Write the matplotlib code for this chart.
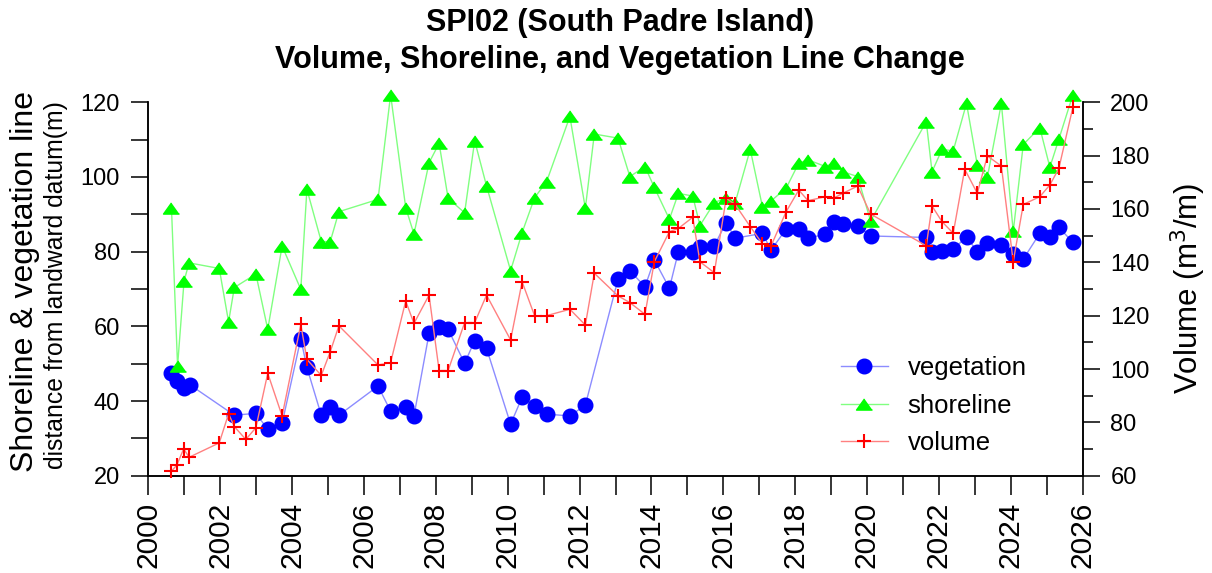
import matplotlib
matplotlib.use("Agg")
import matplotlib.pyplot as plt
from matplotlib.ticker import MultipleLocator
from matplotlib.lines import Line2D

plt.rcParams.update({
    "font.family": ["Liberation Sans", "DejaVu Sans"],
    "axes.linewidth": 1.1,
    "xtick.major.width": 1.1,
    "xtick.minor.width": 1.1,
    "ytick.major.width": 1.1,
    "ytick.minor.width": 1.1,
})

# survey dates (decimal years) and values
veg_year = [2000.64, 2000.79, 2000.99, 2001.16, 2002.39, 2002.99, 2003.32, 2003.72, 2004.24, 2004.41,
            2004.81, 2005.06, 2005.30, 2006.39, 2006.74, 2007.16, 2007.39, 2007.81, 2008.09, 2008.34,
            2008.80, 2009.08, 2009.41, 2010.08, 2010.40, 2010.75, 2011.08, 2011.73, 2012.16, 2013.07,
            2013.40, 2013.82, 2014.08, 2014.50, 2014.75, 2015.15, 2015.35, 2015.75, 2016.08, 2016.33,
            2017.09, 2017.33, 2017.75, 2018.10, 2018.36, 2018.84, 2019.09, 2019.33, 2019.74, 2020.10,
            2021.65, 2021.81, 2022.09, 2022.40, 2022.77, 2023.07, 2023.35, 2023.74, 2024.07, 2024.35,
            2024.81, 2025.09, 2025.34, 2025.73]
veg_dist = [47.6, 45.4, 43.4, 44.3, 36.2, 36.7, 32.4, 34.0, 56.7, 49.0,
            36.2, 38.5, 36.2, 44.0, 37.3, 38.3, 36.0, 58.1, 59.9, 59.2,
            50.1, 56.2, 54.1, 33.8, 41.0, 38.7, 36.5, 36.0, 38.9, 72.6,
            74.9, 70.6, 77.8, 70.2, 80.0, 80.0, 81.3, 81.6, 87.8, 83.6,
            84.9, 80.4, 86.1, 86.1, 83.6, 84.7, 88.0, 87.3, 87.0, 84.2,
            83.8, 80.0, 80.3, 80.6, 84.0, 80.0, 82.2, 81.8, 79.4, 78.0,
            84.9, 84.0, 86.5, 82.5]

shore_year = [2000.64, 2000.81, 2000.99, 2001.13, 2001.97, 2002.23, 2002.39, 2002.99, 2003.32, 2003.72,
              2004.24, 2004.41, 2004.81, 2005.06, 2005.30, 2006.39, 2006.74, 2007.16, 2007.39, 2007.81,
              2008.09, 2008.34, 2008.80, 2009.08, 2009.41, 2010.08, 2010.40, 2010.75, 2011.08, 2011.73,
              2012.16, 2012.41, 2013.07, 2013.40, 2013.82, 2014.08, 2014.50, 2014.75, 2015.15, 2015.35,
              2015.75, 2016.08, 2016.33, 2016.75, 2017.09, 2017.33, 2017.75, 2018.10, 2018.36, 2018.84,
              2019.09, 2019.33, 2019.74, 2020.10, 2021.65, 2021.81, 2022.09, 2022.40, 2022.77, 2023.07,
              2023.35, 2023.74, 2024.07, 2024.35, 2024.81, 2025.09, 2025.34, 2025.73]
shore_dist = [91.8, 49.4, 72.1, 77.0, 75.5, 61.2, 70.4, 74.0, 59.2, 81.5,
              69.9, 96.7, 82.7, 82.7, 90.7, 94.0, 122.0, 91.8, 84.7, 103.8,
              109.0, 94.3, 90.4, 109.7, 97.6, 74.9, 85.1, 94.5, 98.7, 116.2,
              91.6, 111.5, 110.4, 100.1, 102.8, 97.2, 88.7, 95.6, 94.9, 87.0,
              93.1, 94.5, 93.1, 107.4, 92.0, 93.6, 97.0, 103.7, 104.6, 102.8,
              103.8, 101.4, 100.1, 88.2, 114.8, 101.4, 107.4, 107.0, 119.7, 103.2,
              99.9, 119.7, 85.4, 108.7, 113.2, 102.6, 110.1, 122.0]

vol_year = [2000.64, 2000.79, 2000.98, 2001.13, 2001.97, 2002.23, 2002.39, 2002.71, 2002.99, 2003.32,
            2003.72, 2004.24, 2004.41, 2004.81, 2005.06, 2005.30, 2006.39, 2006.74, 2007.16, 2007.39,
            2007.81, 2008.09, 2008.34, 2008.80, 2009.08, 2009.41, 2010.08, 2010.40, 2010.75, 2011.08,
            2011.73, 2012.16, 2012.41, 2013.07, 2013.40, 2013.82, 2014.08, 2014.50, 2014.75, 2015.15,
            2015.35, 2015.75, 2016.08, 2016.33, 2016.75, 2017.09, 2017.33, 2017.75, 2018.10, 2018.36,
            2018.84, 2019.09, 2019.33, 2019.74, 2020.10, 2021.65, 2021.81, 2022.09, 2022.40, 2022.72,
            2023.07, 2023.35, 2023.74, 2024.07, 2024.35, 2024.81, 2025.09, 2025.34, 2025.73]
vol = [61.7, 64.0, 70.1, 66.9, 72.3, 83.2, 78.4, 73.6, 78.0, 98.4,
       82.4, 116.7, 103.6, 97.6, 106.5, 116.2, 101.5, 102.4, 125.5, 117.1,
       127.7, 99.4, 99.4, 117.4, 117.4, 127.7, 110.9, 132.7, 119.9, 120.0,
       122.4, 116.5, 135.9, 127.4, 124.9, 120.5, 140.2, 151.5, 152.7, 156.9,
       140.2, 136.1, 164.0, 161.7, 153.4, 146.9, 146.2, 159.0, 167.1, 163.1,
       164.6, 164.2, 165.9, 168.6, 158.1, 146.2, 161.1, 155.2, 150.9, 174.9,
       165.9, 179.9, 176.1, 140.2, 161.7, 164.6, 169.0, 175.2, 198.1]

x_ticks = list(range(2000, 2027, 2))

# flat triangle like the original
tri = [(0, 0.7), (-1, -0.7), (1, -0.7)]

fig = plt.figure(figsize=(12.12, 5.73), dpi=100)
ax = fig.add_axes([0.1225, 0.1698, 0.7707, 0.6517])

ax.plot(veg_year, veg_dist, color="#8c8cff", lw=1.0, marker="o", ms=10.5,
        mfc="#0000ff", mec="#0000ff", clip_on=False, zorder=3)
ax.plot(shore_year, shore_dist, color="#80ff80", lw=1.0, marker=tri, ms=11.5,
        mfc="#00ff00", mec="#00ff00", clip_on=False, zorder=4)

ax.set_xlim(2000, 2026)
ax.set_ylim(20, 120)
ax.set_xticks(x_ticks)
ax.xaxis.set_minor_locator(MultipleLocator(1))
ax.yaxis.set_major_locator(MultipleLocator(20))
ax.yaxis.set_minor_locator(MultipleLocator(10))
ax.tick_params(axis="x", which="both", direction="out", length=13.5, labelsize=21.5,
               labelrotation=90, pad=5)
ax.tick_params(axis="y", which="both", direction="out", length=12.5, labelsize=17, pad=8)
ax.spines["top"].set_visible(False)

ax2 = ax.twinx()
ax2.plot(vol_year, vol, color="#ff8080", lw=1.0, marker="+", ms=10, mew=1.5,
         mec="#ff0000", clip_on=False, zorder=5)
ax2.set_ylim(60, 200)
ax2.yaxis.set_major_locator(MultipleLocator(20))
ax2.yaxis.set_minor_locator(MultipleLocator(10))
ax2.tick_params(axis="y", which="major", direction="out", length=12.5, labelsize=17, pad=7.5)
ax2.tick_params(axis="y", which="minor", direction="out", length=7.5)
ax2.spines["top"].set_visible(False)

# labels
fig.text(25 / 1212, 1 - 282 / 573, "Shoreline & vegetation line", rotation=90,
         ha="center", va="center", fontsize=23)
fig.text(56 / 1212, 1 - 285 / 573, "distance from landward datum(m)", rotation=90,
         ha="center", va="center", fontsize=17.8)
fig.text(1188 / 1212, 1 - 288 / 573, "Volume (m$^3$/m)", rotation=90,
         ha="center", va="center", fontsize=22.5)
fig.text(620 / 1212, 1 - 8 / 573,
         "SPI02 (South Padre Island)\nVolume, Shoreline, and Vegetation Line Change",
         ha="center", va="top", fontsize=22, fontweight="bold", linespacing=1.32)

handles = [
    Line2D([], [], color="#8c8cff", lw=1.0, marker="o", ms=10.5, mfc="#0000ff", mec="#0000ff"),
    Line2D([], [], color="#80ff80", lw=1.0, marker=tri, ms=11.5, mfc="#00ff00", mec="#00ff00"),
    Line2D([], [], color="#ff8080", lw=1.0, marker="+", ms=10, mew=1.5, mec="#ff0000"),
]
ax2.legend(handles, ["vegetation", "shoreline", "volume"], loc="center left",
           bbox_to_anchor=(0.741, 0.188), frameon=False, fontsize=18.5, borderpad=0,
           borderaxespad=0, handlelength=1.85, handletextpad=0.75, labelspacing=0.54,
           numpoints=1)

fig.savefig("out.png", dpi=100)
